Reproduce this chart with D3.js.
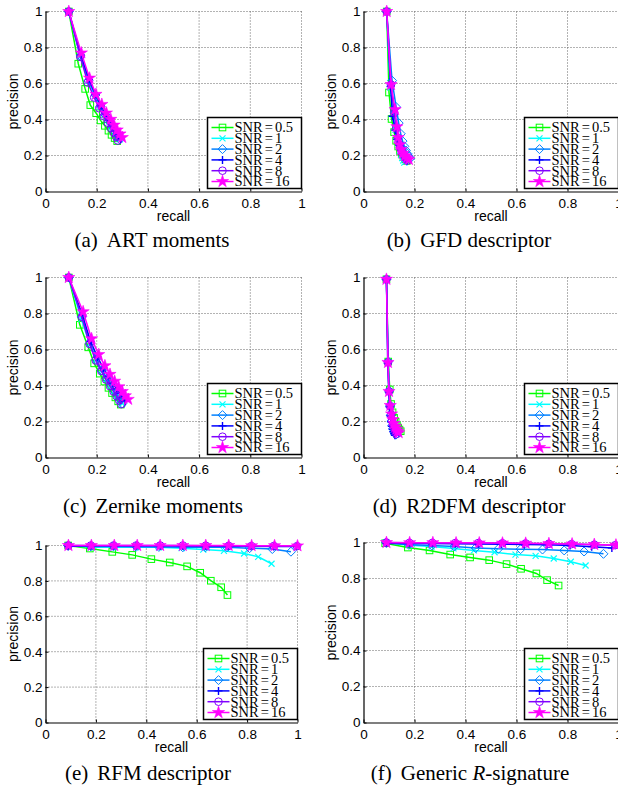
<!DOCTYPE html>
<html>
<head>
<meta charset="utf-8">
<script src="https://cdn.jsdelivr.net/npm/d3@7"></script>
<style>
  body { margin: 0; background: #fff; }
  #fig { width: 618px; height: 792px; }
</style>
</head>
<body>
<div id="fig"></div>
<script>
// precision / recall curves for six descriptors under noise
const snrLabels = ['0.5', '1', '2', '4', '8', '16'];
const snrColors = ['#00ff00', '#00ffff', '#0080ff', '#0000ff', '#8000ff', '#ff00ff'];
const snrMarkers = ['square', 'x', 'diamond', 'plus', 'circle', 'star'];
const ticks = [0, 0.2, 0.4, 0.6, 0.8, 1];

// (a) ART moments
const artRecall = [
  [0.091, 0.128, 0.155, 0.175, 0.198, 0.215, 0.232, 0.246, 0.258, 0.270, 0.280],
  [0.091, 0.136, 0.168, 0.193, 0.214, 0.232, 0.248, 0.260, 0.272, 0.282, 0.290],
  [0.091, 0.137, 0.168, 0.195, 0.215, 0.233, 0.248, 0.261, 0.272, 0.282, 0.290],
  [0.091, 0.138, 0.170, 0.196, 0.216, 0.234, 0.250, 0.263, 0.275, 0.285, 0.293],
  [0.091, 0.136, 0.165, 0.190, 0.210, 0.228, 0.243, 0.256, 0.267, 0.276, 0.283],
  [0.091, 0.140, 0.172, 0.197, 0.220, 0.238, 0.255, 0.268, 0.280, 0.291, 0.300]
];
const artPrecision = [
  [1, 0.710, 0.570, 0.480, 0.435, 0.395, 0.365, 0.338, 0.315, 0.297, 0.280],
  [1, 0.750, 0.615, 0.530, 0.470, 0.425, 0.390, 0.357, 0.332, 0.310, 0.290],
  [1, 0.753, 0.616, 0.536, 0.473, 0.427, 0.390, 0.359, 0.332, 0.310, 0.290],
  [1, 0.759, 0.623, 0.539, 0.475, 0.429, 0.393, 0.362, 0.336, 0.314, 0.293],
  [1, 0.748, 0.605, 0.522, 0.462, 0.418, 0.382, 0.352, 0.326, 0.304, 0.283],
  [1, 0.770, 0.630, 0.540, 0.484, 0.436, 0.401, 0.369, 0.342, 0.320, 0.300]
];

// (b) GFD descriptor
const gfdRecall = [
  [0.091, 0.100, 0.110, 0.120, 0.128, 0.136, 0.143, 0.150, 0.157, 0.163, 0.170],
  [0.091, 0.105, 0.117, 0.125, 0.132, 0.138, 0.143, 0.148, 0.152, 0.156, 0.160],
  [0.091, 0.112, 0.128, 0.138, 0.146, 0.153, 0.160, 0.166, 0.172, 0.178, 0.183],
  [0.091, 0.106, 0.114, 0.124, 0.132, 0.140, 0.147, 0.153, 0.159, 0.165, 0.171],
  [0.091, 0.108, 0.120, 0.128, 0.135, 0.142, 0.148, 0.154, 0.160, 0.166, 0.172],
  [0.091, 0.108, 0.124, 0.131, 0.136, 0.142, 0.148, 0.155, 0.162, 0.170, 0.178]
];
const gfdPrecision = [
  [1, 0.550, 0.403, 0.330, 0.282, 0.250, 0.225, 0.206, 0.192, 0.179, 0.170],
  [1, 0.578, 0.429, 0.344, 0.290, 0.253, 0.225, 0.204, 0.186, 0.172, 0.160],
  [1, 0.616, 0.469, 0.380, 0.321, 0.280, 0.251, 0.228, 0.210, 0.196, 0.183],
  [1, 0.583, 0.418, 0.341, 0.290, 0.257, 0.231, 0.210, 0.194, 0.182, 0.171],
  [1, 0.594, 0.440, 0.352, 0.297, 0.260, 0.233, 0.212, 0.196, 0.183, 0.172],
  [1, 0.594, 0.455, 0.360, 0.300, 0.260, 0.233, 0.213, 0.198, 0.187, 0.178]
];

// (c) Zernike moments
const zerRecall = [
  [0.091, 0.134, 0.167, 0.190, 0.212, 0.230, 0.246, 0.260, 0.273, 0.284, 0.294],
  [0.091, 0.140, 0.172, 0.198, 0.220, 0.238, 0.254, 0.268, 0.280, 0.290, 0.300],
  [0.091, 0.142, 0.173, 0.198, 0.220, 0.240, 0.256, 0.270, 0.282, 0.292, 0.300],
  [0.091, 0.144, 0.176, 0.203, 0.226, 0.246, 0.263, 0.278, 0.291, 0.302, 0.312],
  [0.091, 0.142, 0.172, 0.196, 0.218, 0.236, 0.252, 0.266, 0.278, 0.288, 0.296],
  [0.091, 0.147, 0.180, 0.208, 0.232, 0.252, 0.270, 0.286, 0.300, 0.312, 0.323]
];
const zerPrecision = [
  [1, 0.737, 0.612, 0.523, 0.466, 0.422, 0.387, 0.358, 0.334, 0.312, 0.294],
  [1, 0.770, 0.631, 0.545, 0.484, 0.436, 0.399, 0.369, 0.342, 0.319, 0.300],
  [1, 0.781, 0.634, 0.545, 0.484, 0.440, 0.402, 0.371, 0.345, 0.321, 0.300],
  [1, 0.792, 0.645, 0.558, 0.497, 0.451, 0.413, 0.382, 0.356, 0.332, 0.312],
  [1, 0.781, 0.631, 0.539, 0.480, 0.433, 0.396, 0.366, 0.340, 0.317, 0.296],
  [1, 0.810, 0.660, 0.572, 0.510, 0.462, 0.424, 0.393, 0.367, 0.343, 0.323]
];

// (d) R2DFM descriptor
const r2dRecall = [
  [0.090, 0.097, 0.103, 0.108, 0.114, 0.120, 0.126, 0.131, 0.136, 0.141, 0.146],
  [0.090, 0.096, 0.100, 0.104, 0.108, 0.112, 0.116, 0.120, 0.124, 0.128, 0.132],
  [0.090, 0.097, 0.101, 0.104, 0.107, 0.110, 0.113, 0.117, 0.120, 0.124, 0.127],
  [0.090, 0.095, 0.099, 0.102, 0.105, 0.108, 0.111, 0.114, 0.117, 0.120, 0.123],
  [0.090, 0.096, 0.100, 0.104, 0.108, 0.112, 0.116, 0.120, 0.124, 0.127, 0.130],
  [0.090, 0.096, 0.100, 0.105, 0.110, 0.115, 0.120, 0.125, 0.130, 0.134, 0.138]
];
const r2dPrecision = [
  [0.99, 0.533, 0.378, 0.297, 0.251, 0.220, 0.198, 0.180, 0.166, 0.155, 0.146],
  [0.99, 0.528, 0.367, 0.286, 0.238, 0.205, 0.182, 0.165, 0.152, 0.141, 0.132],
  [0.99, 0.534, 0.370, 0.286, 0.235, 0.202, 0.178, 0.161, 0.147, 0.136, 0.127],
  [0.99, 0.523, 0.363, 0.281, 0.231, 0.198, 0.174, 0.157, 0.143, 0.132, 0.123],
  [0.99, 0.528, 0.367, 0.286, 0.238, 0.205, 0.182, 0.165, 0.152, 0.140, 0.130],
  [0.99, 0.528, 0.367, 0.289, 0.242, 0.211, 0.189, 0.172, 0.159, 0.147, 0.138]
];

// (e) RFM descriptor
const rfmRecall = [
  [0.090, 0.176, 0.265, 0.344, 0.420, 0.493, 0.562, 0.614, 0.656, 0.697, 0.722],
  [0.090, 0.180, 0.270, 0.360, 0.450, 0.540, 0.626, 0.708, 0.788, 0.844, 0.897],
  [0.090, 0.180, 0.270, 0.360, 0.450, 0.545, 0.635, 0.720, 0.810, 0.900, 0.974],
  [0.090, 0.180, 0.270, 0.360, 0.455, 0.545, 0.636, 0.725, 0.815, 0.905, 0.995],
  [0.090, 0.180, 0.270, 0.360, 0.455, 0.545, 0.636, 0.727, 0.817, 0.906, 0.998],
  [0.091, 0.182, 0.273, 0.364, 0.455, 0.545, 0.636, 0.727, 0.818, 0.909, 1.000]
];
const rfmPrecision = [
  [1, 0.983, 0.964, 0.947, 0.923, 0.904, 0.882, 0.846, 0.801, 0.764, 0.720],
  [1, 0.990, 0.990, 0.990, 0.990, 0.985, 0.977, 0.970, 0.955, 0.936, 0.897],
  [1, 0.995, 0.995, 0.993, 0.992, 0.990, 0.990, 0.990, 0.985, 0.980, 0.965],
  [0.995, 0.998, 0.998, 0.998, 0.998, 0.997, 0.997, 0.996, 0.996, 0.995, 0.995],
  [1, 1, 1, 1, 1, 1, 0.999, 0.998, 0.997, 0.997, 0.996],
  [1, 1, 1, 1, 1, 1, 1, 1, 0.999, 0.999, 0.998]
];

// (f) Generic R-signature
const rsigRecall = [
  [0.085, 0.174, 0.259, 0.340, 0.418, 0.493, 0.561, 0.618, 0.678, 0.720, 0.765],
  [0.088, 0.178, 0.267, 0.353, 0.433, 0.514, 0.596, 0.675, 0.746, 0.813, 0.871],
  [0.088, 0.178, 0.268, 0.356, 0.440, 0.529, 0.616, 0.702, 0.787, 0.865, 0.941],
  [0.090, 0.180, 0.270, 0.360, 0.450, 0.540, 0.630, 0.720, 0.810, 0.895, 0.974],
  [0.090, 0.180, 0.270, 0.360, 0.450, 0.545, 0.636, 0.727, 0.816, 0.905, 0.987],
  [0.090, 0.181, 0.272, 0.363, 0.454, 0.545, 0.636, 0.727, 0.818, 0.905, 0.990]
];
const rsigPrecision = [
  [0.996, 0.972, 0.956, 0.933, 0.917, 0.902, 0.880, 0.854, 0.828, 0.791, 0.761],
  [1, 0.985, 0.978, 0.967, 0.956, 0.946, 0.933, 0.926, 0.911, 0.893, 0.872],
  [1, 0.987, 0.983, 0.978, 0.970, 0.965, 0.963, 0.961, 0.956, 0.950, 0.937],
  [0.995, 0.995, 0.994, 0.993, 0.992, 0.990, 0.989, 0.987, 0.983, 0.977, 0.970],
  [1, 0.998, 0.998, 0.997, 0.997, 0.996, 0.995, 0.993, 0.991, 0.988, 0.985],
  [1, 0.999, 0.999, 0.998, 0.998, 0.997, 0.996, 0.994, 0.992, 0.989, 0.986]
];

const panels = [
  {recall: artRecall, precision: artPrecision, box: [45.5, 301.5, 11.5, 191.5], tag: '(a)', name: 'ART moments', cx: 152, cy: 247},
  {recall: gfdRecall, precision: gfdPrecision, box: [363.5, 618.5, 11.5, 191.5], tag: '(b)', name: 'GFD descriptor', cx: 469, cy: 247},
  {recall: zerRecall, precision: zerPrecision, box: [45.5, 301.5, 277.5, 457.5], tag: '(c)', name: 'Zernike moments', cx: 153, cy: 513},
  {recall: r2dRecall, precision: r2dPrecision, box: [363.5, 618.5, 277.5, 457.5], tag: '(d)', name: 'R2DFM descriptor', cx: 469, cy: 513},
  {recall: rfmRecall, precision: rfmPrecision, box: [45.5, 297.5, 545.5, 722.5], tag: '(e)', name: 'RFM descriptor', cx: 148, cy: 780},
  {recall: rsigRecall, precision: rsigPrecision, box: [363.5, 618.5, 542.5, 722.5], tag: '(f)', name: null, cx: 470, cy: 780}
];

const svg = d3.select('#fig').append('svg').attr('width', 618).attr('height', 792);

function drawMarker(g, type, color, x, y) {
  if (type === 'square') {
    g.append('rect').attr('x', x - 3.3).attr('y', y - 3.3).attr('width', 6.6).attr('height', 6.6)
      .attr('fill', 'none').attr('stroke', color);
  } else if (type === 'x') {
    g.append('path').attr('d', `M${x-3},${y-3}L${x+3},${y+3}M${x-3},${y+3}L${x+3},${y-3}`)
      .attr('stroke', color).attr('stroke-width', 1.2);
  } else if (type === 'diamond') {
    g.append('path').attr('d', `M${x},${y-4.5}L${x+4.5},${y}L${x},${y+4.5}L${x-4.5},${y}Z`)
      .attr('fill', 'none').attr('stroke', color);
  } else if (type === 'plus') {
    g.append('path').attr('d', `M${x-4},${y}H${x+4}M${x},${y-4}V${y+4}`)
      .attr('stroke', color).attr('stroke-width', 1.4);
  } else if (type === 'circle') {
    g.append('circle').attr('cx', x).attr('cy', y).attr('r', 3.8)
      .attr('fill', 'none').attr('stroke', color);
  } else {
    g.append('path').attr('d', d3.symbol().type(d3.symbolStar).size(46)())
      .attr('transform', `translate(${x},${y})`)
      .attr('fill', color).attr('stroke', color).attr('stroke-width', 0.6);
  }
}

panels.forEach(p => {
  const [l, r, t, b] = p.box;
  const x = d3.scaleLinear().domain([0, 1]).range([l, r]);
  const y = d3.scaleLinear().domain([0, 1]).range([b, t]);
  const g = svg.append('g');

  // dotted grid
  g.selectAll('.gx').data(ticks.slice(1)).enter().append('line')
    .attr('x1', d => x(d)).attr('x2', d => x(d)).attr('y1', t).attr('y2', b)
    .attr('stroke', '#666').attr('stroke-dasharray', '1,2');
  g.selectAll('.gy').data(ticks.slice(1)).enter().append('line')
    .attr('y1', d => y(d)).attr('y2', d => y(d)).attr('x1', l).attr('x2', r)
    .attr('stroke', '#666').attr('stroke-dasharray', '1,2');

  // axes
  const xAxis = d3.axisBottom(x).tickValues(ticks).tickFormat(d3.format('~g')).tickSizeInner(-3).tickSizeOuter(0).tickPadding(5);
  const yAxis = d3.axisLeft(y).tickValues(ticks).tickFormat(d3.format('~g')).tickSizeInner(-3).tickSizeOuter(0).tickPadding(5);
  const gx = g.append('g').attr('transform', `translate(0,${b})`).call(xAxis);
  const gy = g.append('g').attr('transform', `translate(${l},0)`).call(yAxis);
  [gx, gy].forEach(a => {
    a.select('.domain').attr('stroke', '#000').attr('stroke-width', 1.2);
    a.selectAll('.tick line').attr('stroke', '#000');
    a.selectAll('text').attr('font-family', 'Liberation Sans, Arial, sans-serif')
      .attr('font-size', 13.5).attr('fill', '#000');
  });
  gx.selectAll('text').attr('dy', '0.75em').attr('y', 6);
  gy.selectAll('text').attr('x', -3);

  g.append('text').attr('x', (l + r) / 2).attr('y', b + 29).attr('text-anchor', 'middle')
    .attr('font-family', 'Liberation Sans, Arial, sans-serif').attr('font-size', 14).text('recall');
  g.append('text').attr('transform', `translate(${l - 27.5},${(t + b) / 2}) rotate(-90)`)
    .attr('text-anchor', 'middle')
    .attr('font-family', 'Liberation Sans, Arial, sans-serif').attr('font-size', 14).text('precision');

  // curves
  const line = d3.line().x(d => x(d[0])).y(d => y(d[1]));
  p.recall.forEach((rec, s) => {
    const pts = rec.map((v, i) => [v, p.precision[s][i]]);
    const sg = g.append('g');
    sg.append('path').datum(pts).attr('d', line).attr('fill', 'none')
      .attr('stroke', snrColors[s]).attr('stroke-width', 1.5);
    pts.forEach(d => drawMarker(sg, snrMarkers[s], snrColors[s], x(d[0]), y(d[1])));
  });

  // legend
  const lx = r - 94, ly = b - 74;
  const lg = g.append('g');
  lg.append('rect').attr('x', lx).attr('y', ly).attr('width', 94).attr('height', 71)
    .attr('fill', '#fff').attr('stroke', '#000').attr('stroke-width', 1.5);
  snrLabels.forEach((lab, i) => {
    const ry = ly + 10 + i * 10.8;
    lg.append('line').attr('x1', lx + 4).attr('x2', lx + 26).attr('y1', ry).attr('y2', ry)
      .attr('stroke', snrColors[i]).attr('stroke-width', 1.5);
    drawMarker(lg, snrMarkers[i], snrColors[i], lx + 15, ry);
    const tx = lg.append('text').attr('x', lx + 27).attr('y', ry + 4.8)
      .attr('font-family', 'Liberation Serif, Times New Roman, serif').attr('font-size', 14.5);
    tx.append('tspan').text('SNR');
    tx.append('tspan').attr('dx', 2).text('=');
    tx.append('tspan').attr('dx', 2).text(lab);
  });

  // caption
  const cap = svg.append('text').attr('x', p.cx).attr('y', p.cy).attr('text-anchor', 'middle')
    .attr('font-family', 'Liberation Serif, Times New Roman, serif').attr('font-size', 21);
  cap.append('tspan').text(p.tag);
  if (p.name) {
    cap.append('tspan').attr('dx', 9).text(p.name);
  } else {
    cap.append('tspan').attr('dx', 9).text('Generic ');
    cap.append('tspan').attr('font-style', 'italic').text('R');
    cap.append('tspan').text('-signature');
  }
});
</script>
</body>
</html>
